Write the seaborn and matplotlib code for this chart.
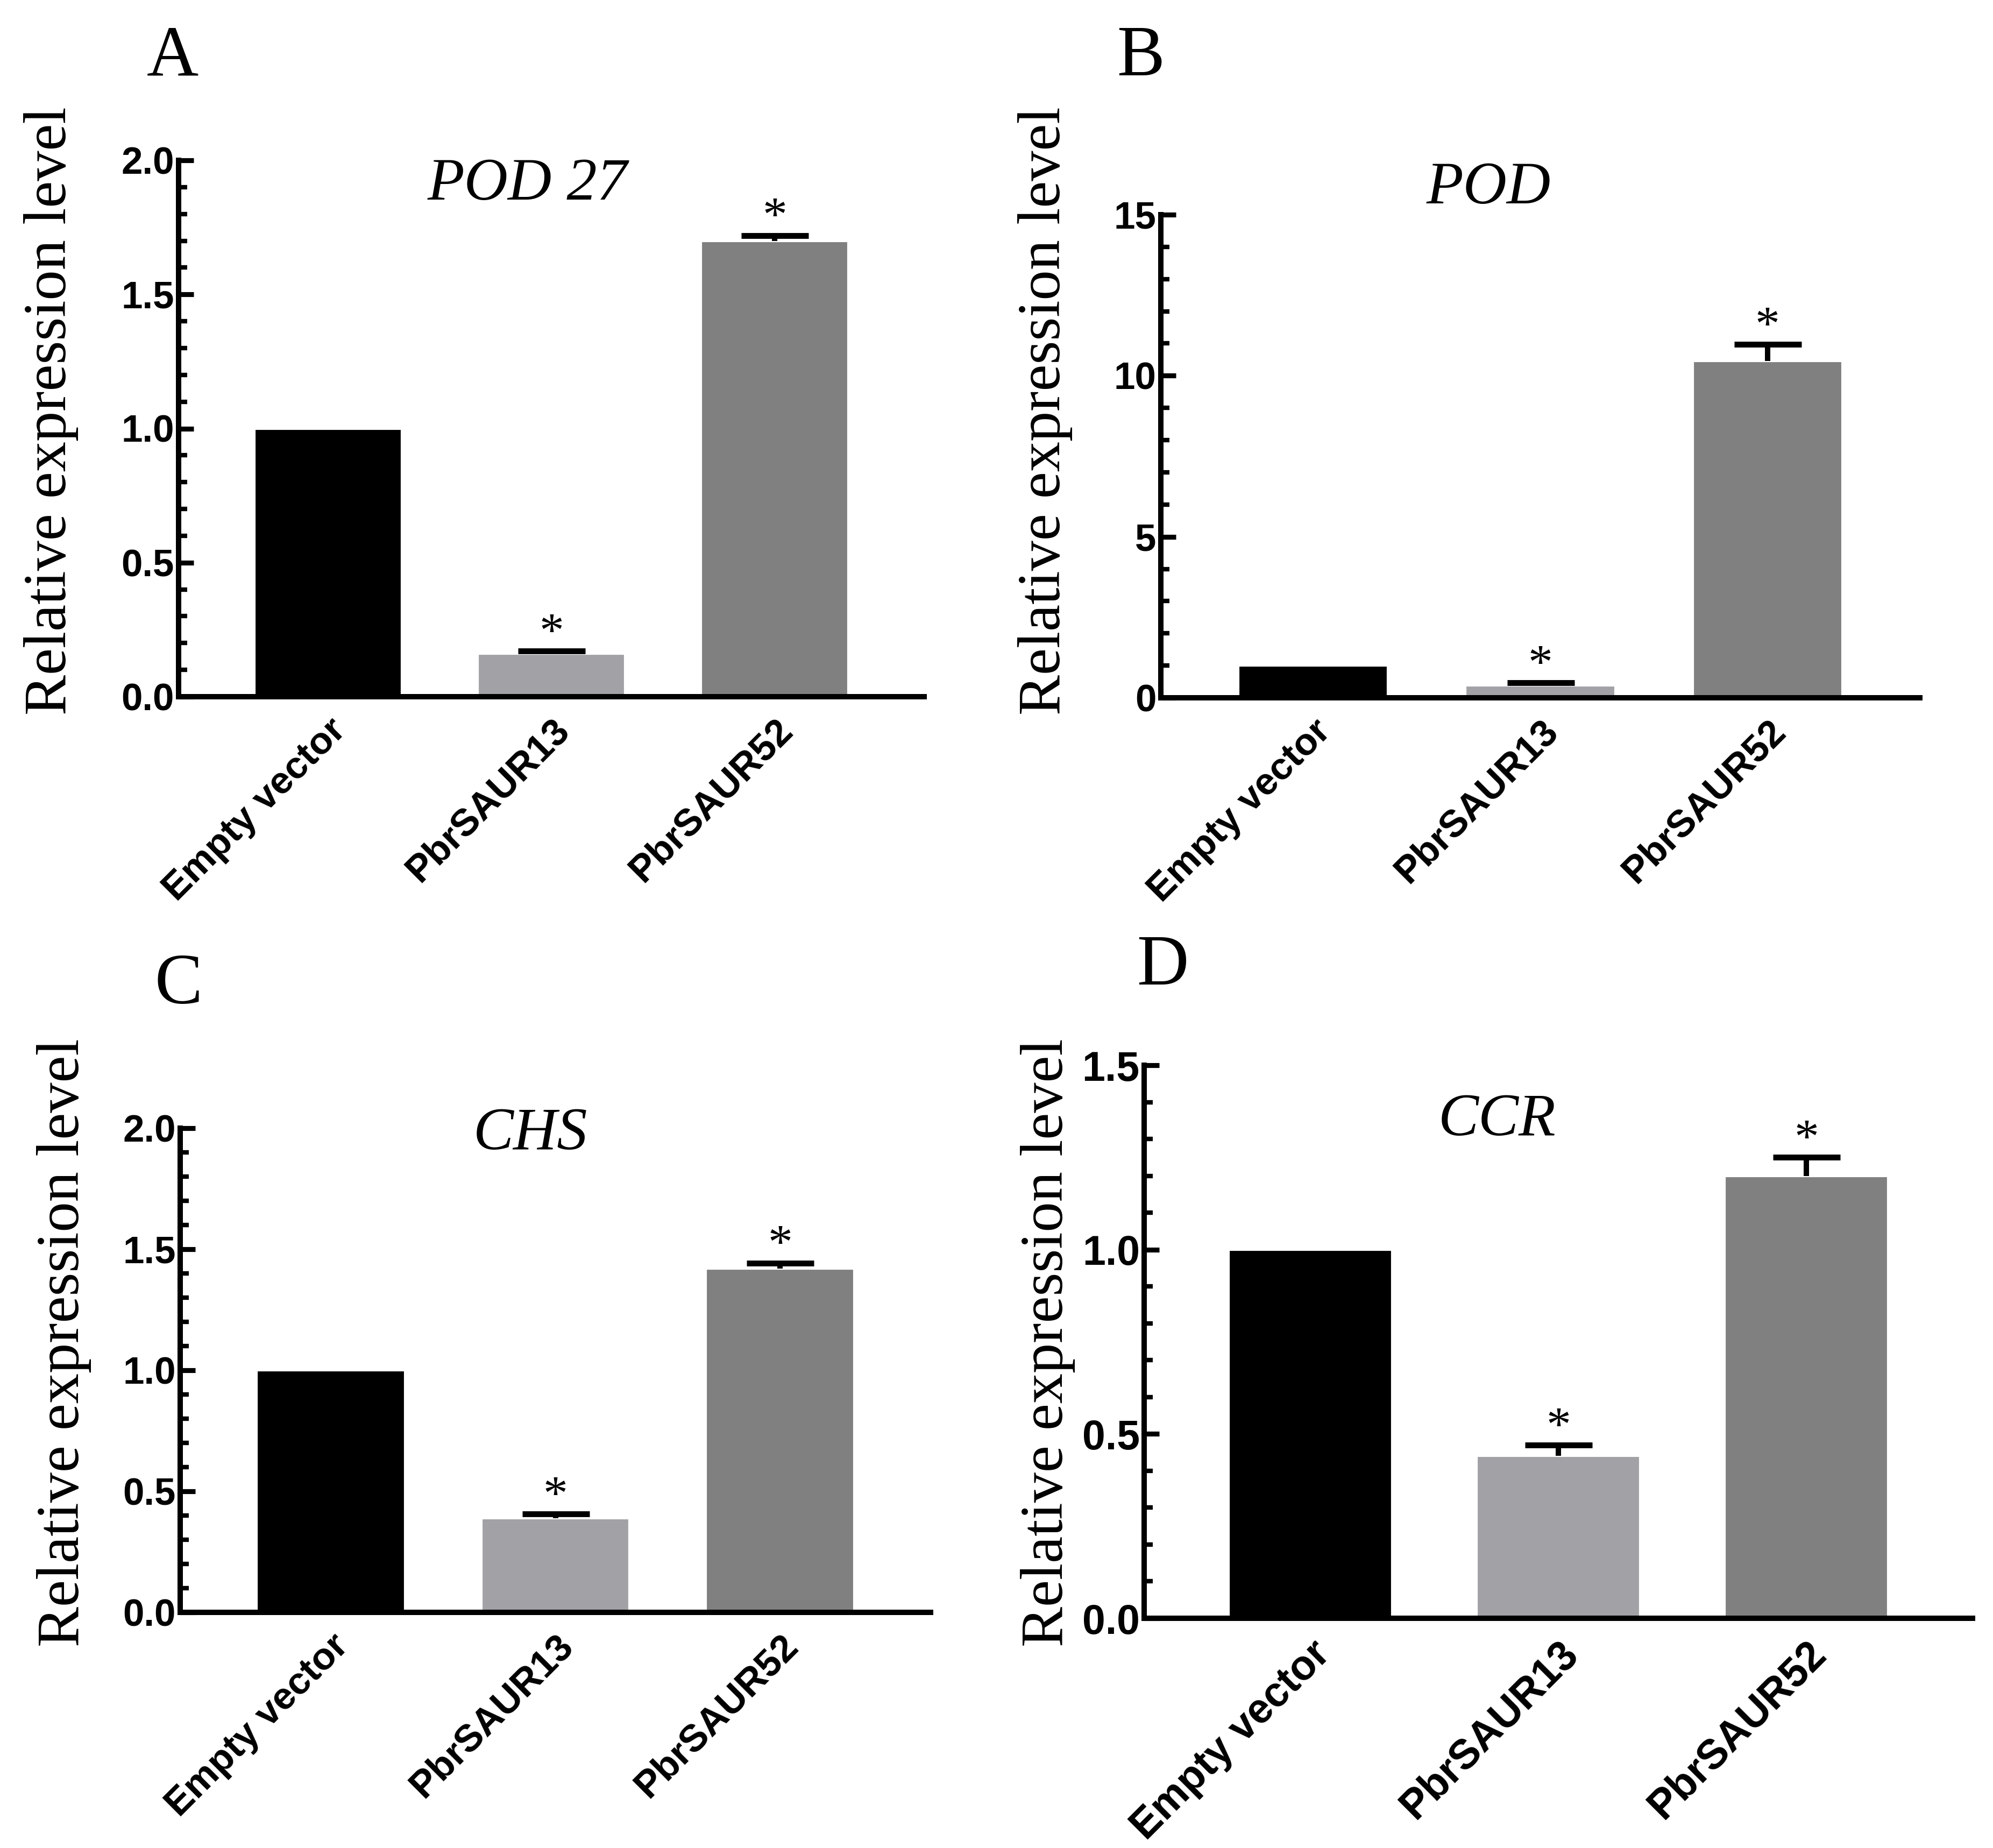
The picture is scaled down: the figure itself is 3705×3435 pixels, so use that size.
import numpy as np
import pandas as pd
import matplotlib.pyplot as plt
import seaborn as sns
from matplotlib.ticker import MultipleLocator

# groups and colours shared by all four panels
groups = ['Empty vector', 'PbrSAUR13', 'PbrSAUR52']
bar_colors = ['#000000', '#a2a2a6', '#808080']
stars = ['', '*', '*']

genes = ['POD 27', 'POD', 'CHS', 'CCR']
letters = ['A', 'B', 'C', 'D']

pod27_mean = [1.0, 0.16, 1.70]
pod27_err = [0.0, 0.01, 0.02]
pod_mean = [1.0, 0.38, 10.45]
pod_err = [0.0, 0.09, 0.52]
chs_mean = [1.0, 0.39, 1.42]
chs_err = [0.0, 0.017, 0.023]
ccr_mean = [1.0, 0.44, 1.20]
ccr_err = [0.0, 0.03, 0.05]

y_top = [2.0, 15, 2.0, 1.5]
y_major = [0.5, 5, 0.5, 0.5]
y_minor = [0.1, 1, 0.1, 0.1]

means = [pod27_mean, pod_mean, chs_mean, ccr_mean]
errs = [pod27_err, pod_err, chs_err, ccr_err]

sns.set_theme(style='white')
plt.rcParams['font.family'] = ['Liberation Sans', 'DejaVu Sans']
plt.rcParams['text.color'] = 'black'
plt.rcParams['xtick.color'] = 'black'
plt.rcParams['ytick.color'] = 'black'
plt.rcParams['axes.labelcolor'] = 'black'

W, H = 3705, 3435
fig = plt.figure(figsize=(W / 300, H / 300), dpi=300)

# axes boxes in pixels: left, right, top, bottom
boxes = [(332, 1718, 298, 1295),
         (2158, 3569, 399, 1297),
         (335, 1730, 2097, 2997),
         (2127, 3667, 1980, 3008)]
letter_pos = [(321, 107), (2121, 107), (332, 1833), (2161, 1798)]
title_pos = [(981, 344), (2767, 351), (986, 2109), (2783, 2083)]
ylab_pos = [(95, 764), (1943, 764), (119, 2496), (1948, 2496)]
tick_fs = [17, 17, 17, 18.5]

serif = 'Liberation Serif'

for k in range(4):
    l, r, t, b = boxes[k]
    ax = fig.add_axes([l / W, 1 - b / H, (r - l) / W, (b - t) / H])
    df = pd.DataFrame({'group': groups, 'value': means[k]})
    sns.barplot(data=df, x='group', y='value', hue='group', palette=bar_colors,
                order=groups, hue_order=groups, width=0.66, saturation=1,
                legend=False, ax=ax)

    # upper error bars only, for the groups that have one
    idx = [i for i in range(3) if errs[k][i] > 0]
    eb = ax.errorbar(x=idx, y=[means[k][i] for i in idx],
                     yerr=[[0] * len(idx), [errs[k][i] for i in idx]],
                     fmt='none', ecolor='black', elinewidth=2.4,
                     capsize=15, capthick=2.6, zorder=3)
    eb[1][0].set_visible(False)

    for i in range(3):
        if stars[i]:
            ax.annotate(stars[i], xy=(i, means[k][i] + errs[k][i]),
                        xytext=(0, 2), textcoords='offset points',
                        ha='center', va='baseline', fontsize=22,
                        family=serif, color='black')

    ax.set_xlim(-0.67, 2.67)
    ax.set_ylim(0, y_top[k])
    ax.yaxis.set_major_locator(MultipleLocator(y_major[k]))
    ax.yaxis.set_minor_locator(MultipleLocator(y_minor[k]))
    ax.set_xlabel('')
    ax.set_ylabel('')

    for side in ['top', 'right']:
        ax.spines[side].set_visible(False)
    for side in ['left', 'bottom']:
        ax.spines[side].set_linewidth(2.4)
        ax.spines[side].set_color('black')

    ax.tick_params(axis='y', which='major', direction='in', length=6.6,
                   width=2.2, color='black', labelcolor='black', pad=2, left=True)
    ax.tick_params(axis='y', which='minor', direction='in', length=3.8,
                   width=2.0, color='black', left=True)
    ax.tick_params(axis='x', which='major', direction='in', length=6.6,
                   width=2.2, color='black', labelcolor='black', pad=7, bottom=True)
    ax.set_xticks([0, 1, 2])
    ax.set_xticklabels(groups, rotation=45, ha='right', va='top',
                       rotation_mode='anchor', fontweight='bold',
                       fontsize=tick_fs[k], color='black')
    for lab in ax.get_yticklabels():
        lab.set_fontweight('bold')
        lab.set_fontsize(tick_fs[k])
        lab.set_color('black')

    lx, ly = letter_pos[k]
    fig.text(lx / W, 1 - ly / H, letters[k], family=serif, fontsize=32,
             ha='center', va='center', color='black')
    tx, ty = title_pos[k]
    fig.text(tx / W, 1 - ty / H, genes[k], family=serif, style='italic',
             fontsize=27, ha='center', va='center', color='black')
    yx, yy = ylab_pos[k]
    fig.text(yx / W, 1 - yy / H, 'Relative expression level', family=serif,
             fontsize=27, rotation=90, ha='center', va='center', color='black')

fig.savefig('out.png', dpi=300, facecolor='white')
